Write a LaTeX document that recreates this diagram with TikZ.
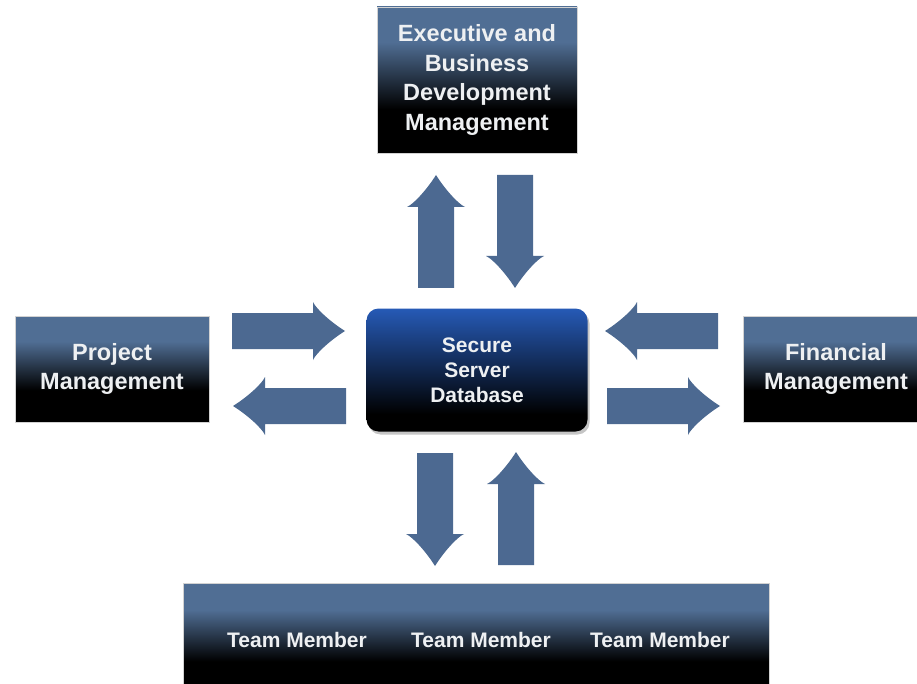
\documentclass[tikz,border=0pt]{standalone}
\usepackage{fontspec}
\setmainfont{Liberation Sans}
\usetikzlibrary{shadows}

\definecolor{steel}{RGB}{80,110,148}
\definecolor{arrowblue}{RGB}{76,105,145}
\definecolor{dbblue}{RGB}{38,90,182}
\definecolor{textwhite}{RGB}{238,240,242}

\pgfdeclareverticalshading{panelfade}{100bp}{color(0bp)=(black); color(40bp)=(black); color(63bp)=(steel); color(100bp)=(steel)}
\pgfdeclareverticalshading{dbfade}{100bp}{color(0bp)=(black); color(32bp)=(black); color(75bp)=(dbblue); color(100bp)=(dbblue)}

\tikzset{
  panel/.style={shade, shading=panelfade, draw=gray!35, line width=.6pt,
    text=textwhite, align=center, inner sep=0pt,
    font=\bfseries\fontsize{23.5}{29.7}\selectfont},
  member/.style={text=textwhite, font=\bfseries\fontsize{21}{24}\selectfont},
  pics/blockarrow/.style={code={
    \fill[arrowblue] (0,-18) -- (81,-18) -- (81,-29)
      .. controls (84,-22) and (100,-8) .. (113,0)
      .. controls (100,8) and (84,22) .. (81,29)
      -- (81,18) -- (0,18) -- cycle;
  }}
}

\begin{document}
\begin{tikzpicture}[x=1pt,y=-1pt]
   \path[use as bounding box] (0,0) rectangle (917,684);
   \clip (0,0) rectangle (917,684);
   \fill[white] (0,0) rectangle (917,684);

   % boxes
   \node[panel, minimum width=200, minimum height=146] (exec) at (477,80)
      {Executive and\\Business\\Development\\Management};
   \node[panel, minimum width=194, minimum height=106] (proj) at (112,369)
      {Project\\Management};
   \node[panel, minimum width=186, minimum height=106] (fin) at (836,369)
      {Financial\\Management};
   \node[panel, minimum width=586, minimum height=112] (team) at (476,639) {};
   \node[member] (tm1) at (297,640) {Team Member};
   \node[member] (tm2) at (481,640) {Team Member};
   \node[member] (tm3) at (660,640) {Team Member};

   \node[shade, shading=dbfade, rounded corners=12pt, minimum width=221, minimum height=123,
      drop shadow={shadow xshift=2pt, shadow yshift=-3pt, opacity=.45},
      text=textwhite, align=center, inner sep=0pt,
      font=\bfseries\fontsize{21}{25}\selectfont] (db) at (477,370)
      {Secure\\Server\\Database};

   % block arrows
   \pic[rotate=90]  at (436,288) {blockarrow};
   \pic[rotate=-90] at (515,175) {blockarrow};
   \pic             at (232,331) {blockarrow};
   \pic[rotate=180] at (346,406) {blockarrow};
   \pic[rotate=180] at (718,331) {blockarrow};
   \pic             at (607,406) {blockarrow};
   \pic[rotate=-90] at (435,453) {blockarrow};
   \pic[rotate=90]  at (516,565) {blockarrow};
\end{tikzpicture}
\end{document}
